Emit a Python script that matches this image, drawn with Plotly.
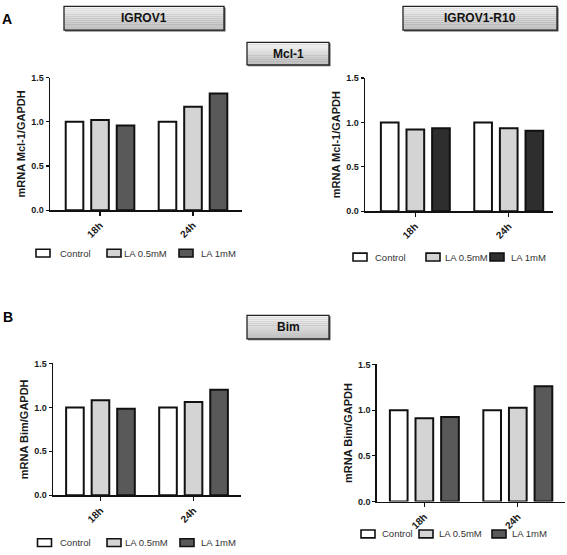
import plotly.graph_objects as go

W, H = 567, 555

# ---------------- data ----------------
timepoints = ["18h", "24h"]
series_names = ["Control", "LA 0.5mM", "LA 1mM"]

mcl1_igrov1 = {"Control": [1.00, 1.00], "LA 0.5mM": [1.02, 1.17], "LA 1mM": [0.96, 1.32]}
mcl1_r10 = {"Control": [1.00, 1.00], "LA 0.5mM": [0.92, 0.935], "LA 1mM": [0.935, 0.907]}
bim_igrov1 = {"Control": [1.00, 1.00], "LA 0.5mM": [1.08, 1.06], "LA 1mM": [0.985, 1.20]}
bim_r10 = {"Control": [1.00, 1.00], "LA 0.5mM": [0.91, 1.025], "LA 1mM": [0.925, 1.26]}

y_ticks = [0.0, 0.5, 1.0, 1.5]
y_tick_labels = ["0.0", "0.5", "1.0", "1.5"]

cell_lines = ["IGROV1", "IGROV1-R10"]
genes = ["Mcl-1", "Bim"]
panel_letters = ["A", "B"]

# ---------------- styling ----------------
FONT = "Liberation Sans, Arial, sans-serif"
colors_std = {"Control": "#ffffff", "LA 0.5mM": "#d4d4d4", "LA 1mM": "#595959"}
colors_dark = {"Control": "#ffffff", "LA 0.5mM": "#d4d4d4", "LA 1mM": "#2e2e2e"}


def px(x):
    return x / W


def py(y):
    return 1 - y / H


panels = [
    dict(data=mcl1_igrov1, colors=colors_std, title="mRNA Mcl-1/GAPDH",
         x0=50, x1=242, yt=74, yb=209, xr=[-0.538, 1.527],
         legend=dict(y=252.7, boxes=[36, 107, 179], texts=[58, 122, 199])),
    dict(data=mcl1_r10, colors=colors_dark, title="mRNA Mcl-1/GAPDH",
         x0=365, x1=553, yt=74.3, yb=210, xr=[-0.539, 1.474],
         legend=dict(y=256.7, boxes=[353, 426, 490], texts=[373, 443, 509])),
    dict(data=bim_igrov1, colors=colors_std, title="mRNA Bim/GAPDH",
         x0=53, x1=241, yt=365, yb=499.3, xr=[-0.51, 1.51],
         legend=dict(y=547.5, boxes=[37.5, 107, 180], texts=[58, 122.5, 199])),
    dict(data=bim_r10, colors=colors_std, title="mRNA Bim/GAPDH",
         x0=376.7, x1=565, yt=366, yb=505.7, xr=[-0.51, 1.505],
         legend=dict(y=538.7, boxes=[361, 419, 492], texts=[380, 437, 510])),
]

fig = go.Figure()
layout = dict(
    width=W, height=H, autosize=False,
    margin=dict(l=0, r=0, t=0, b=0),
    paper_bgcolor="white", plot_bgcolor="white",
    barmode="group", bargap=0.177, bargroupgap=0.31,
    showlegend=False,
    font=dict(family=FONT, color="#222"),
)
shapes = []
annotations = []

for i, p in enumerate(panels):
    n = i + 1
    xa = "x" if n == 1 else f"x{n}"
    ya = "y" if n == 1 else f"y{n}"
    for s in series_names:
        fig.add_trace(go.Bar(
            x=timepoints, y=p["data"][s], name=s,
            marker=dict(color=p["colors"][s], line=dict(color="#111", width=2)),
            xaxis=xa, yaxis=ya, offsetgroup=s,
        ))
    layout[f"xaxis{'' if n == 1 else n}"] = dict(
        domain=[px(p["x0"]), px(p["x1"])], anchor=ya,
        range=p["xr"], type="category",
        showline=True, linecolor="#111", linewidth=1.5,
        ticks="outside", ticklen=4, tickwidth=1.2, tickcolor="#111",
        tickangle=-45, tickfont=dict(size=10, family=FONT, color="#1a1a1a", weight="bold"),
        showgrid=False, zeroline=False, fixedrange=True,
    )
    layout[f"yaxis{'' if n == 1 else n}"] = dict(
        domain=[py(p["yb"]), py(p["yt"])], anchor=xa,
        range=[0, 1.5], tickvals=y_ticks, ticktext=y_tick_labels,
        showline=True, linecolor="#111", linewidth=1.5,
        ticks="outside", ticklen=3, tickwidth=1.2, tickcolor="#111",
        tickfont=dict(size=9, family=FONT, color="#1a1a1a", weight="bold"),
        title=dict(text=p["title"], standoff=3,
                   font=dict(size=11, family=FONT, color="#1a1a1a", weight="bold")),
        showgrid=False, zeroline=False, fixedrange=True,
    )
    lg = p["legend"]
    for j, s in enumerate(series_names):
        bx = lg["boxes"][j]
        shapes.append(dict(type="rect", xref="paper", yref="paper",
                           x0=px(bx), x1=px(bx + 14), y0=py(lg["y"] + 4), y1=py(lg["y"] - 4),
                           fillcolor=p["colors"][s], line=dict(color="#111", width=1.6)))
        annotations.append(dict(xref="paper", yref="paper", x=px(lg["texts"][j]), y=py(lg["y"]),
                                text=s, showarrow=False, xanchor="left", yanchor="middle",
                                font=dict(size=9.5, family=FONT, color="#333")))


def header_box(x0, x1, y0, y1, label):
    shapes.append(dict(type="rect", xref="paper", yref="paper",
                       x0=px(x0 + 1), x1=px(x1 + 1.5), y0=py(y1 + 1.5), y1=py(y0 + 1),
                       fillcolor="#555", line=dict(width=0)))
    nb = 12
    for k in range(nb):
        t = k / (nb - 1)
        g = int(round(244 - t * (244 - 192)))
        ya0 = y0 + (y1 - y0) * k / nb
        ya1 = y0 + (y1 - y0) * (k + 1) / nb
        shapes.append(dict(type="rect", xref="paper", yref="paper",
                           x0=px(x0), x1=px(x1), y0=py(ya1 + 0.3), y1=py(ya0),
                           fillcolor=f"rgb({g},{g},{g})", line=dict(width=0)))
    shapes.append(dict(type="rect", xref="paper", yref="paper",
                       x0=px(x0), x1=px(x1), y0=py(y1), y1=py(y0),
                       fillcolor="rgba(0,0,0,0)", line=dict(color="#222", width=1.3)))
    annotations.append(dict(xref="paper", yref="paper", x=px((x0 + x1) / 2), y=py((y0 + y1) / 2),
                            text=label, showarrow=False, xanchor="center", yanchor="middle",
                            font=dict(size=12, family=FONT, color="#111", weight="bold")))


header_box(64, 224, 1.5, 25.5, cell_lines[0])
header_box(403, 557, 1.5, 25.5, cell_lines[1])
header_box(247, 329, 38, 61, genes[0])
header_box(247, 329, 316, 340, genes[1])

annotations.append(dict(xref="paper", yref="paper", x=px(0), y=py(14), text=panel_letters[0],
                        showarrow=False, xanchor="left", yanchor="middle",
                        font=dict(size=14, family=FONT, color="#000", weight="bold")))
annotations.append(dict(xref="paper", yref="paper", x=px(0.5), y=py(318), text=panel_letters[1],
                        showarrow=False, xanchor="left", yanchor="middle",
                        font=dict(size=14, family=FONT, color="#000", weight="bold")))

layout["shapes"] = shapes
layout["annotations"] = annotations
fig.update_layout(**layout)
fig.write_html(
    "out.html",
    config={"displayModeBar": False, "staticPlot": True},
    post_script="document.body.style.margin='0';document.body.style.overflow='hidden';",
)
